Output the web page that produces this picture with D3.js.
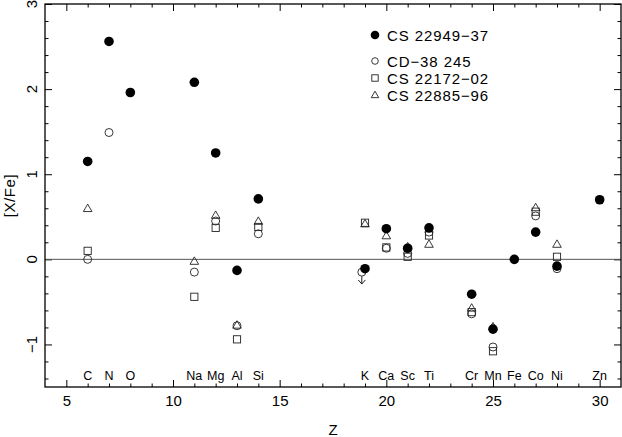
<!DOCTYPE html>
<html><head><meta charset="utf-8">
<script src="https://d3js.org/d3.v7.min.js"></script>
<style>
body{margin:0;background:#fff;}
svg{display:block;font-family:"Liberation Sans",Arial,sans-serif;}
</style></head>
<body>
<svg id="chart" width="622" height="437"></svg>
<script>
// ---- data ----
const elements = ["C","N","O","Na","Mg","Al","Si","K","Ca","Sc","Ti","Cr","Mn","Fe","Co","Ni","Zn"];
const elementZ = [6,7,8,11,12,13,14,19,20,21,22,24,25,26,27,28,30];

const s1Name = "CS 22949\u221237";
const s1Z = [6,7,8,11,12,13,14,19,20,21,22,24,25,26,27,28,30];
const s1V = [1.15,2.56,1.96,2.08,1.25,-0.13,0.71,-0.11,0.36,0.13,0.37,-0.41,-0.82,0.00,0.32,-0.08,0.70];

const s2Name = "CD\u221238 245";
const s2Z = [6,7,11,12,13,14,18.85,20,21,22,24,25,27,28];
const s2V = [0.00,1.49,-0.15,0.45,-0.78,0.30,-0.15,0.13,0.07,0.32,-0.64,-1.03,0.51,-0.11];
// upper limit (arrow) for K in CD-38 245
const limitZ = [18.85];
const limitFrom = [-0.15];
const limitTo = [-0.29];

const s3Name = "CS 22172\u221202";
const s3Z = [6,11,12,13,14,19,20,21,22,24,25,27,28];
const s3V = [0.10,-0.44,0.37,-0.94,0.38,0.43,0.14,0.03,0.28,-0.62,-1.08,0.56,0.03];

const s4Name = "CS 22885\u221296";
const s4Z = [6,11,12,13,14,19,20,21,22,24,25,27,28];
const s4V = [0.60,-0.02,0.52,-0.77,0.45,0.42,0.28,0.15,0.18,-0.57,-0.79,0.61,0.18];

const xMajor = [5,10,15,20,25,30];
const yMajor = [-1,0,1,2,3];
const yMajorLabels = ["\u22121","0","1","2","3"];

// ---- chart ----
const svg = d3.select("#chart");
const x = d3.scaleLinear().domain([4,31]).range([45,621]);
const y = d3.scaleLinear().domain([-1.5,3]).range([387,4]);

const xMinor = d3.range(5,31,1).filter(v=>xMajor.indexOf(v)<0);
const yMinor = d3.range(-1.4,3,0.2).map(v=>+v.toFixed(1)).filter(v=>Math.abs(v-Math.round(v))>0.01);

function styleAxis(g){
  g.select(".domain").remove();
  g.selectAll("line").attr("stroke","#000").attr("stroke-width",1);
}
// bottom
svg.append("g").attr("transform",`translate(0,${y(-1.5)})`)
  .call(d3.axisBottom(x).tickValues(xMajor).tickSize(-7).tickPadding(8).tickFormat(d3.format("d")))
  .call(styleAxis)
  .call(g=>g.selectAll("text").attr("font-size",15).attr("fill","#000").attr("font-family","Liberation Sans, Arial, sans-serif"));
svg.append("g").attr("transform",`translate(0,${y(-1.5)})`)
  .call(d3.axisBottom(x).tickValues(xMinor).tickSize(-3.5).tickFormat(""))
  .call(styleAxis);
// top
svg.append("g").attr("transform",`translate(0,${y(3)})`)
  .call(d3.axisTop(x).tickValues(xMajor).tickSize(-7).tickFormat(""))
  .call(styleAxis);
svg.append("g").attr("transform",`translate(0,${y(3)})`)
  .call(d3.axisTop(x).tickValues(xMinor).tickSize(-3.5).tickFormat(""))
  .call(styleAxis);
// left
svg.append("g").attr("transform",`translate(${x(4)},0)`)
  .call(d3.axisLeft(y).tickValues(yMajor).tickSize(-7).tickFormat(""))
  .call(styleAxis);
svg.append("g").attr("transform",`translate(${x(4)},0)`)
  .call(d3.axisLeft(y).tickValues(yMinor).tickSize(-3.5).tickFormat(""))
  .call(styleAxis);
// right
svg.append("g").attr("transform",`translate(${x(31)},0)`)
  .call(d3.axisRight(y).tickValues(yMajor).tickSize(-7).tickFormat(""))
  .call(styleAxis);
svg.append("g").attr("transform",`translate(${x(31)},0)`)
  .call(d3.axisRight(y).tickValues(yMinor).tickSize(-3.5).tickFormat(""))
  .call(styleAxis);

// y tick labels rotated
svg.append("g").selectAll("text").data(yMajor).join("text")
  .attr("transform",(d)=>`translate(37,${y(d)}) rotate(-90)`)
  .attr("text-anchor","middle").attr("font-size",15).attr("fill","#000")
  .text((d,i)=>yMajorLabels[i]);

// zero line
svg.append("line").attr("x1",x(4)).attr("x2",x(31)).attr("y1",y(0)).attr("y2",y(0))
  .attr("stroke","#555").attr("stroke-width",1);

// frame
svg.append("rect").attr("x",x(4)).attr("y",y(3)).attr("width",x(31)-x(4)).attr("height",y(-1.5)-y(3))
  .attr("fill","none").attr("stroke","#000").attr("stroke-width",1.3);

// element labels
svg.append("g").selectAll("text").data(elements).join("text")
  .attr("x",(d,i)=>x(elementZ[i])).attr("y",y(-1.36)+4.5)
  .attr("text-anchor","middle").attr("font-size",12.5).attr("fill","#000")
  .text(d=>d);

// axis titles
svg.append("text").attr("transform",`translate(15,${(y(3)+y(-1.5))/2}) rotate(-90)`)
  .attr("text-anchor","middle").attr("font-size",15).attr("letter-spacing",0.6).text("[X/Fe]");
svg.append("text").attr("x",(x(4)+x(31))/2).attr("y",435).attr("text-anchor","middle")
  .attr("font-size",15).text("Z");

// markers
const ink = "#222";
const tri = d3.symbol().type(d3.symbolTriangle).size(32);
const zipped = (zs,vs)=>zs.map((z,i)=>({z,v:vs[i]}));

svg.append("g").selectAll("circle").data(zipped(s2Z,s2V)).join("circle")
  .attr("cx",d=>x(d.z)).attr("cy",d=>y(d.v)).attr("r",4)
  .attr("fill","none").attr("stroke",ink).attr("stroke-width",0.9);

svg.append("g").selectAll("rect").data(zipped(s3Z,s3V)).join("rect")
  .attr("x",d=>x(d.z)-3.6).attr("y",d=>y(d.v)-3.6).attr("width",7.2).attr("height",7.2)
  .attr("fill","none").attr("stroke",ink).attr("stroke-width",0.9);

svg.append("g").selectAll("path").data(zipped(s4Z,s4V)).join("path")
  .attr("transform",d=>`translate(${x(d.z)},${y(d.v)+0.8})`).attr("d",tri)
  .attr("fill","none").attr("stroke",ink).attr("stroke-width",0.9);

// upper-limit arrow
limitZ.forEach((z,i)=>{
  const x0 = x(z), y0 = y(limitFrom[i])+4, y1 = y(limitTo[i]);
  svg.append("path")
    .attr("d",`M${x0},${y0}L${x0},${y1}M${x0-3.5},${y1-4}L${x0},${y1}L${x0+3.5},${y1-4}`)
    .attr("fill","none").attr("stroke",ink).attr("stroke-width",1);
});

svg.append("g").selectAll("circle").data(zipped(s1Z,s1V)).join("circle")
  .attr("cx",d=>x(d.z)).attr("cy",d=>y(d.v)).attr("r",4.8).attr("fill","#000");

// legend
const lg = svg.append("g").attr("font-size",15).attr("letter-spacing",0.9).attr("fill","#000");
const lx = 375, tx = 387;
lg.append("circle").attr("cx",lx).attr("cy",35).attr("r",4.3).attr("fill","#000");
lg.append("text").attr("x",tx).attr("y",40.5).text(s1Name);
lg.append("circle").attr("cx",lx).attr("cy",61).attr("r",3.3).attr("fill","none").attr("stroke",ink).attr("stroke-width",0.9);
lg.append("text").attr("x",tx).attr("y",66.5).text(s2Name);
lg.append("rect").attr("x",lx-3.2).attr("y",78-3.2).attr("width",6.4).attr("height",6.4).attr("fill","none").attr("stroke",ink).attr("stroke-width",0.9);
lg.append("text").attr("x",tx).attr("y",83.5).text(s3Name);
lg.append("path").attr("transform",`translate(${lx},${95.5})`).attr("d",d3.symbol().type(d3.symbolTriangle).size(24))
  .attr("fill","none").attr("stroke",ink).attr("stroke-width",0.9);
lg.append("text").attr("x",tx).attr("y",100.5).text(s4Name);
</script>
</body></html>
